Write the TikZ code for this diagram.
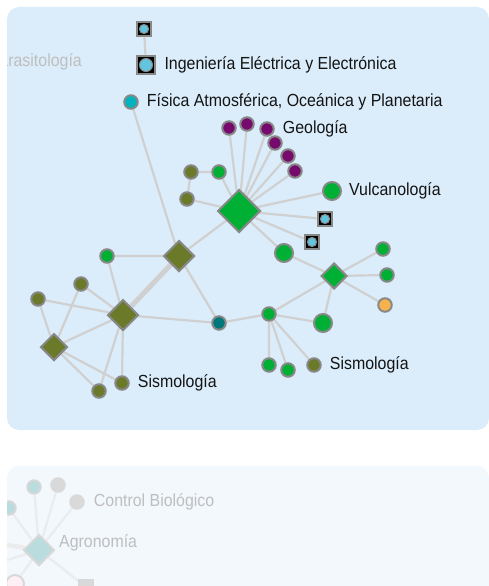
\documentclass[tikz,border=0pt]{standalone}
\usepackage{fontspec}
\setmainfont{Liberation Sans}[FakeStretch=0.91]
\usetikzlibrary{shapes.geometric, positioning, backgrounds}
\pgfdeclarelayer{panels}
\pgfsetlayers{panels,background,main}

\definecolor{panelblue}{HTML}{DBEDFA}
\definecolor{panelpale}{HTML}{F3F8FD}
\definecolor{edgegray}{HTML}{D0D0D0}
\definecolor{bordergray}{HTML}{888888}
\definecolor{nodegreen}{HTML}{00B035}
\definecolor{nodeolive}{HTML}{6B7A29}
\definecolor{nodepurple}{HTML}{770B6D}
\definecolor{nodeteal}{HTML}{00B3BF}
\definecolor{darkteal}{HTML}{00777A}
\definecolor{nodeorange}{HTML}{F6B24C}
\definecolor{skyblue}{HTML}{62C4DE}
\definecolor{fadeteal}{HTML}{B9DDDE}
\definecolor{fadegray}{HTML}{D9D9D9}
\definecolor{fadeedge}{HTML}{EAECEE}
\definecolor{fadeborder}{HTML}{D8D8D8}
\definecolor{fadepink}{HTML}{FDEFF4}
\definecolor{fadetext}{HTML}{BEBEBE}

\begin{document}
\begin{tikzpicture}[x=1pt, y=-1pt,
    link/.style={draw=edgegray, line width=2.2pt},
    fadelink/.style={draw=fadeedge, line width=2.2pt},
    dot/.style={circle, draw=bordergray, line width=2pt, minimum size=13.5pt, inner sep=0pt},
    bigdot/.style={dot, minimum size=18pt},
    gem/.style={diamond, draw=bordergray, line width=2pt, inner sep=0pt, minimum size=#1},
    smallsq/.style={rectangle, draw=bordergray, line width=2.2pt, fill=black, minimum size=14.5pt, inner sep=0pt,
        path picture={\filldraw[fill=skyblue, draw=bordergray, line width=1pt] (path picture bounding box.center) circle (4.6pt);}},
    bigsq/.style={smallsq, minimum size=18.5pt,
        path picture={\filldraw[fill=skyblue, draw=bordergray, line width=1pt] (path picture bounding box.center) circle (6.5pt);}},
    lbl/.style={inner sep=0pt, text=black!92, font=\fontsize{17.5}{19}\selectfont},
    fadelbl/.style={lbl, text=fadetext}]
    \useasboundingbox (0,0) rectangle (489,586);

    % panels
    \begin{pgfonlayer}{panels}
        \fill[panelblue, rounded corners=12pt] (7,7) rectangle (489,430);
        \fill[panelpale, rounded corners=12pt] (7,466) rectangle (489,620);
    \end{pgfonlayer}

    % upper network
    \begin{scope}
        \clip[rounded corners=12pt] (7,7) rectangle (489,430);
        \node[fadelbl, anchor=east] (para) at (82,62) {Parasitología};

        \node[smallsq] (sqa) at (144,29) {};
        \node[bigsq] (sqb) at (146,65) {};
        \node[lbl, right=8pt of sqb] (ingl) {Ingeniería Eléctrica y Electrónica};

        \node[dot, fill=nodeteal] (fis) at (131,102) {};
        \node[lbl, right=8pt of fis] (fisl) {Física Atmosférica, Oceánica y Planetaria};

        \node[dot, fill=nodepurple] (geo1) at (229,128) {};
        \node[dot, fill=nodepurple] (geo2) at (247,124) {};
        \node[dot, fill=nodepurple] (geo3) at (267,129) {};
        \node[dot, fill=nodepurple] (geo4) at (275,143) {};
        \node[dot, fill=nodepurple] (geo5) at (288,156) {};
        \node[dot, fill=nodepurple] (geo6) at (295,171) {};
        \node[lbl, right=8pt of geo3] (geol) {Geología};

        \node[dot, fill=nodeolive] (olA) at (191,172) {};
        \node[dot, fill=nodegreen] (grA) at (219,172) {};
        \node[dot, fill=nodeolive] (olB) at (187,199) {};
        \node[gem=43pt, fill=nodegreen] (hub) at (239,211) {};

        \node[bigdot, fill=nodegreen] (vul) at (332,191) {};
        \node[lbl, right=7pt of vul] (vull) {Vulcanología};
        \node[smallsq] (sqc) at (325,219) {};
        \node[smallsq] (sqd) at (312,242) {};
        \node[bigdot, fill=nodegreen] (grB) at (284,253) {};

        \node[gem=26pt, fill=nodegreen] (rdia) at (334,276) {};
        \node[dot, fill=nodegreen] (grC) at (383,249) {};
        \node[dot, fill=nodegreen] (grD) at (387,275) {};
        \node[dot, fill=nodeorange] (orng) at (385,305) {};
        \node[bigdot, fill=nodegreen] (grE) at (323,323) {};
        \node[dot, fill=nodegreen] (grF) at (269,314) {};
        \node[dot, fill=nodegreen] (grH) at (269,365) {};
        \node[dot, fill=nodegreen] (grI) at (288,370) {};
        \node[dot, fill=nodeolive] (olG) at (314,365) {};
        \node[lbl, right=8pt of olG] (sisr) {Sismología};

        \node[dot, fill=darkteal] (tdk) at (219,323) {};
        \node[gem=31pt, fill=nodeolive] (odia) at (179,256) {};
        \node[dot, fill=nodegreen] (grG) at (107,256) {};
        \node[dot, fill=nodeolive] (olC) at (81,284) {};
        \node[dot, fill=nodeolive] (olD) at (38,299) {};
        \node[gem=31pt, fill=nodeolive] (ldia) at (123,315) {};
        \node[gem=27pt, fill=nodeolive] (sdia) at (54,347) {};
        \node[dot, fill=nodeolive] (olE) at (99,391) {};
        \node[dot, fill=nodeolive] (olF) at (122,383) {};
        \node[lbl, right=8pt of olF] (sisl) {Sismología};
    \end{scope}

    % lower network, faded
    \begin{scope}
        \clip[rounded corners=12pt] (7,466) rectangle (489,620);
        \node[gem=31pt, fill=fadeteal, draw=fadeborder] (agr) at (39,550) {};
        \node[fadelbl, anchor=west] (agrl) at (59,543) {Agronomía};
        \node[dot, fill=fadeteal, draw=fadeborder] (cb1) at (34,487) {};
        \node[dot, fill=fadegray, draw=fadegray] (cb2) at (58,485) {};
        \node[dot, fill=fadegray, draw=fadegray] (cb3) at (77,502) {};
        \node[fadelbl, right=9pt of cb3] (cbl) {Control Biológico};
        \node[dot, fill=fadeteal, draw=fadeborder] (cb4) at (9,508) {};
        \node[bigdot, fill=fadepink, draw=fadeborder] (pink) at (15,584) {};
        \node[smallsq, fill=fadegray, draw=fadeborder, path picture={}] (fsq) at (86,587) {};
        \coordinate (outa) at (7,545);
        \coordinate (outb) at (7,560);
    \end{scope}

    % connectors
    \begin{scope}[on background layer]
        \draw[link] (sqa) -- (sqb);
        \draw[link] (fis) -- (odia);
        \draw[link] (hub) -- (geo1) (hub) -- (geo2) (hub) -- (geo3)
                    (hub) -- (geo4) (hub) -- (geo5) (hub) -- (geo6);
        \draw[link] (hub) -- (grA) (olA) -- (grA) (olA) -- (olB) (olB) -- (hub);
        \draw[link] (hub) -- (vul) (hub) -- (sqc) (hub) -- (sqd) (hub) -- (grB) (hub) -- (odia);
        \draw[link] (grB) -- (rdia) (rdia) -- (grC) (rdia) -- (grD) (rdia) -- (orng)
                    (rdia) -- (grE) (rdia) -- (grF);
        \draw[link] (grF) -- (grE) (grF) -- (grH) (grF) -- (grI) (grF) -- (olG) (grF) -- (tdk);
        \draw[link] (tdk) -- (odia) (tdk) -- (ldia);
        \draw[link] (odia) -- (grG) (grG) -- (ldia);
        \draw[link, line width=5pt] (odia) -- (ldia);
        \draw[link] (olC) -- (ldia) (olC) -- (sdia) (olD) -- (ldia) (olD) -- (sdia);
        \draw[link] (sdia) -- (ldia) (sdia) -- (olE) (sdia) -- (olF)
                    (ldia) -- (olE) (ldia) -- (olF);

        \draw[fadelink] (agr) -- (cb1) (agr) -- (cb2) (agr) -- (cb3) (agr) -- (cb4)
                        (agr) -- (pink) (agr) -- (fsq) (agr) -- (outb);
        \draw[fadelink, line width=4.5pt] (agr) -- (outa);
    \end{scope}
\end{tikzpicture}
\end{document}
